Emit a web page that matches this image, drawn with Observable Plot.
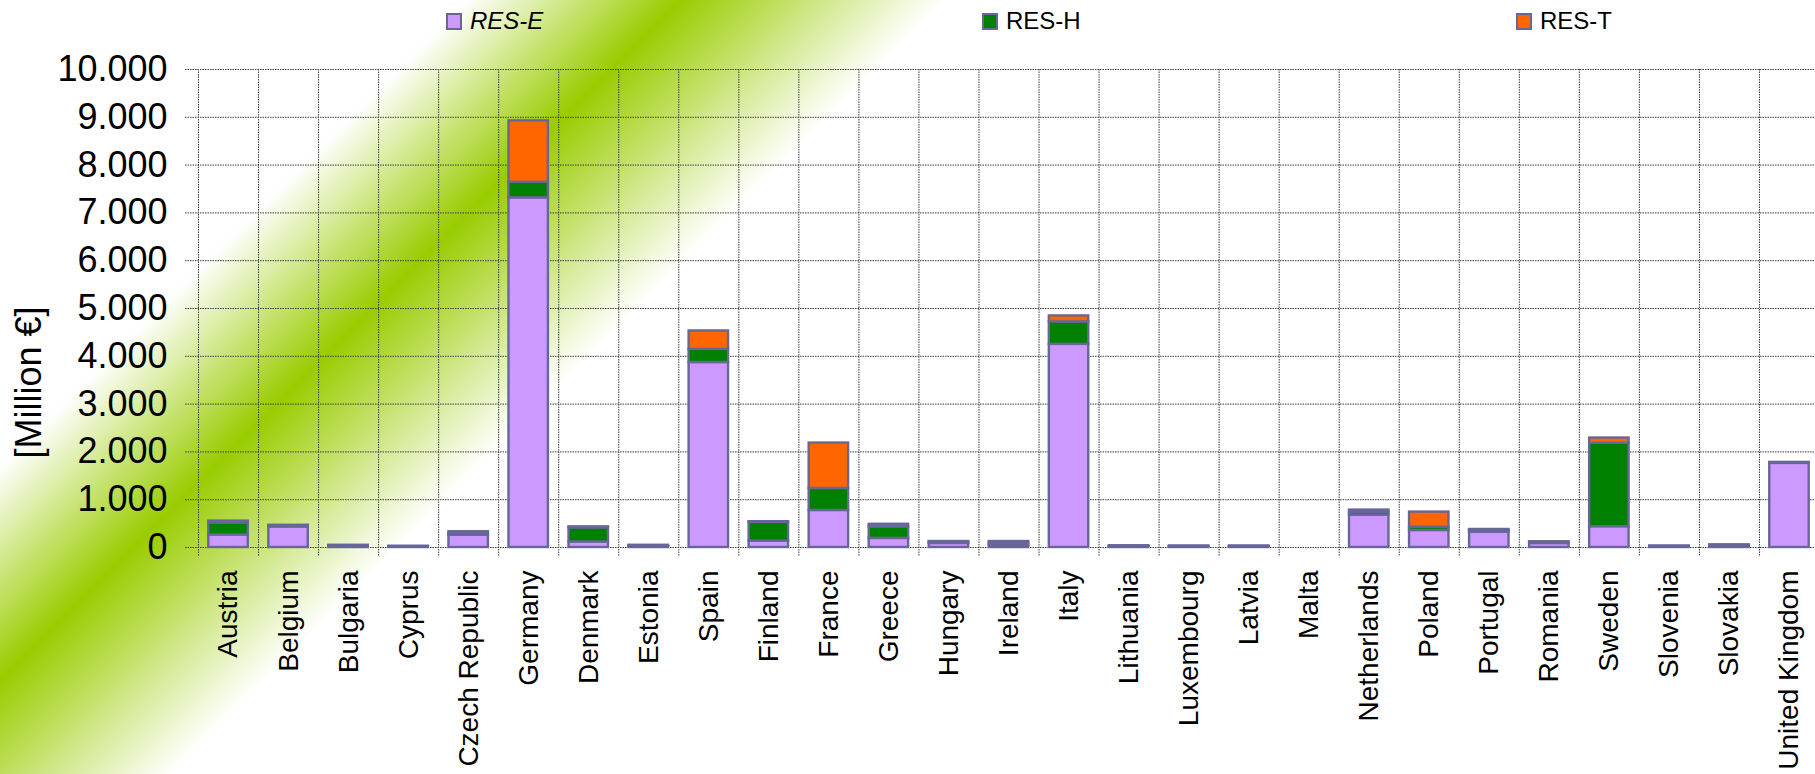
<!DOCTYPE html>
<html>
<head>
<meta charset="utf-8">
<script src="https://cdn.jsdelivr.net/npm/d3@7"></script>
<script src="https://cdn.jsdelivr.net/npm/@observablehq/plot@0.6"></script>
<style>
  html, body { margin: 0; padding: 0; overflow: hidden; }
  body {
    width: 1815px; height: 774px;
    font-family: "Liberation Sans", Arial, sans-serif;
    color: #000;
    background: linear-gradient(135deg, #ffffff 0%, #ffffff 18%, #99cc00 26.3%, #ffffff 36.5%, #ffffff 100%);
  }
  #legend { position: relative; height: 40px; }
  .item { position: absolute; top: 8px; display: flex; align-items: center; font-size: 24px; line-height: 26px; }
  .swatch { width: 16px; height: 17px; box-sizing: border-box; border: 2.5px solid #666699; margin-right: 8px; }
  #chart svg { display: block; }
</style>
</head>
<body>
<div id="legend"></div>
<div id="chart"></div>
<script>
// Support expenditure per member state, split by renewable sector (million €)
const countries = ["Austria", "Belgium", "Bulgaria", "Cyprus", "Czech Republic", "Germany", "Denmark", "Estonia",
  "Spain", "Finland", "France", "Greece", "Hungary", "Ireland", "Italy", "Lithuania", "Luxembourg", "Latvia",
  "Malta", "Netherlands", "Poland", "Portugal", "Romania", "Sweden", "Slovenia", "Slovakia", "United Kingdom"];

const series = ["RES-E", "RES-H", "RES-T"];
const seriesColors = ["#cc99ff", "#008000", "#ff6600"];

const resE = [262, 430, 25, 10, 255, 7315, 115, 20, 3870, 133, 775, 190, 85, 45, 4250, 15, 15, 15, 0, 678, 356, 322, 84, 435, 15, 25, 1760];
const resH = [250, 20, 15, 10, 30, 325, 297, 20, 275, 392, 460, 240, 25, 50, 470, 15, 10, 10, 0, 60, 70, 35, 25, 1745, 10, 20, 15];
const resT = [40, 15, 5, 5, 45, 1285, 20, 5, 385, 15, 950, 55, 15, 30, 125, 5, 5, 5, 0, 45, 315, 20, 10, 110, 5, 10, 5];

const yTicks = [0, 1000, 2000, 3000, 4000, 5000, 6000, 7000, 8000, 9000, 10000];
const yTitle = "[Million €]";

// Legend row above the plot
const legendLeft = [446, 982, 1516];
const legend = document.getElementById("legend");
series.forEach((s, j) => {
  const item = document.createElement("div");
  item.className = "item";
  item.style.left = legendLeft[j] + "px";
  const sw = document.createElement("span");
  sw.className = "swatch";
  sw.style.background = seriesColors[j];
  const label = document.createElement("span");
  label.textContent = s;
  if (j === 0) label.style.fontStyle = "italic";
  item.append(sw, label);
  legend.append(item);
});

// Stacked segments, bottom to top: RES-E, RES-H, RES-T
const values = [resE, resH, resT];
const rows = [];
countries.forEach((c, i) => {
  let base = 0;
  series.forEach((s, j) => {
    const v = values[j][i];
    rows.push({i, country: c, series: s, y1: base, y2: base + v});
    base += v;
  });
});

const fmt = d3.formatLocale({decimal: ",", thousands: ".", grouping: [3], currency: ["", " €"]}).format(",d");
const gridStyle = {stroke: "#3c3c3c", strokeWidth: 1, strokeDasharray: "1.5,1"};

const chart = Plot.plot({
  width: 1815,
  height: 734,
  marginLeft: 198,
  marginRight: -4,
  marginTop: 29,
  marginBottom: 227,
  style: {background: "transparent", fontFamily: "'Liberation Sans', Arial, sans-serif", color: "#000", overflow: "hidden"},
  x: {type: "linear", domain: [0, countries.length]},
  y: {domain: [0, 10000]},
  color: {domain: series, range: seriesColors},
  marks: [
    Plot.ruleY(yTicks, {y: d => d, ...gridStyle, insetLeft: -13}),
    Plot.ruleX(d3.range(countries.length + 1), {x: d => d, ...gridStyle, insetBottom: -9}),
    Plot.rect(rows, {
      x1: "i", x2: d => d.i + 1, y1: "y1", y2: "y2",
      fill: "series", stroke: "#666699", strokeWidth: 2.4,
      insetLeft: 10.3, insetRight: 10.3
    }),
    Plot.axisY({
      ticks: yTicks, tickFormat: fmt, tickSize: 0, tickPadding: 31, fontSize: 36, label: null
    }),
    Plot.axisX({
      ticks: countries.map((c, i) => i + 0.5),
      tickFormat: v => countries[Math.floor(v)],
      tickRotate: -90, tickSize: 0, tickPadding: 23, fontSize: 28, label: null
    }),
    // vertical axis title, left of the tick labels
    Plot.text([yTitle], {
      text: d => d, frameAnchor: "left", rotate: -90, textAnchor: "middle", lineAnchor: "middle",
      dx: -169, dy: 74, fontSize: 36, fill: "#000"
    })
  ]
});
document.getElementById("chart").append(chart);
</script>
</body>
</html>
